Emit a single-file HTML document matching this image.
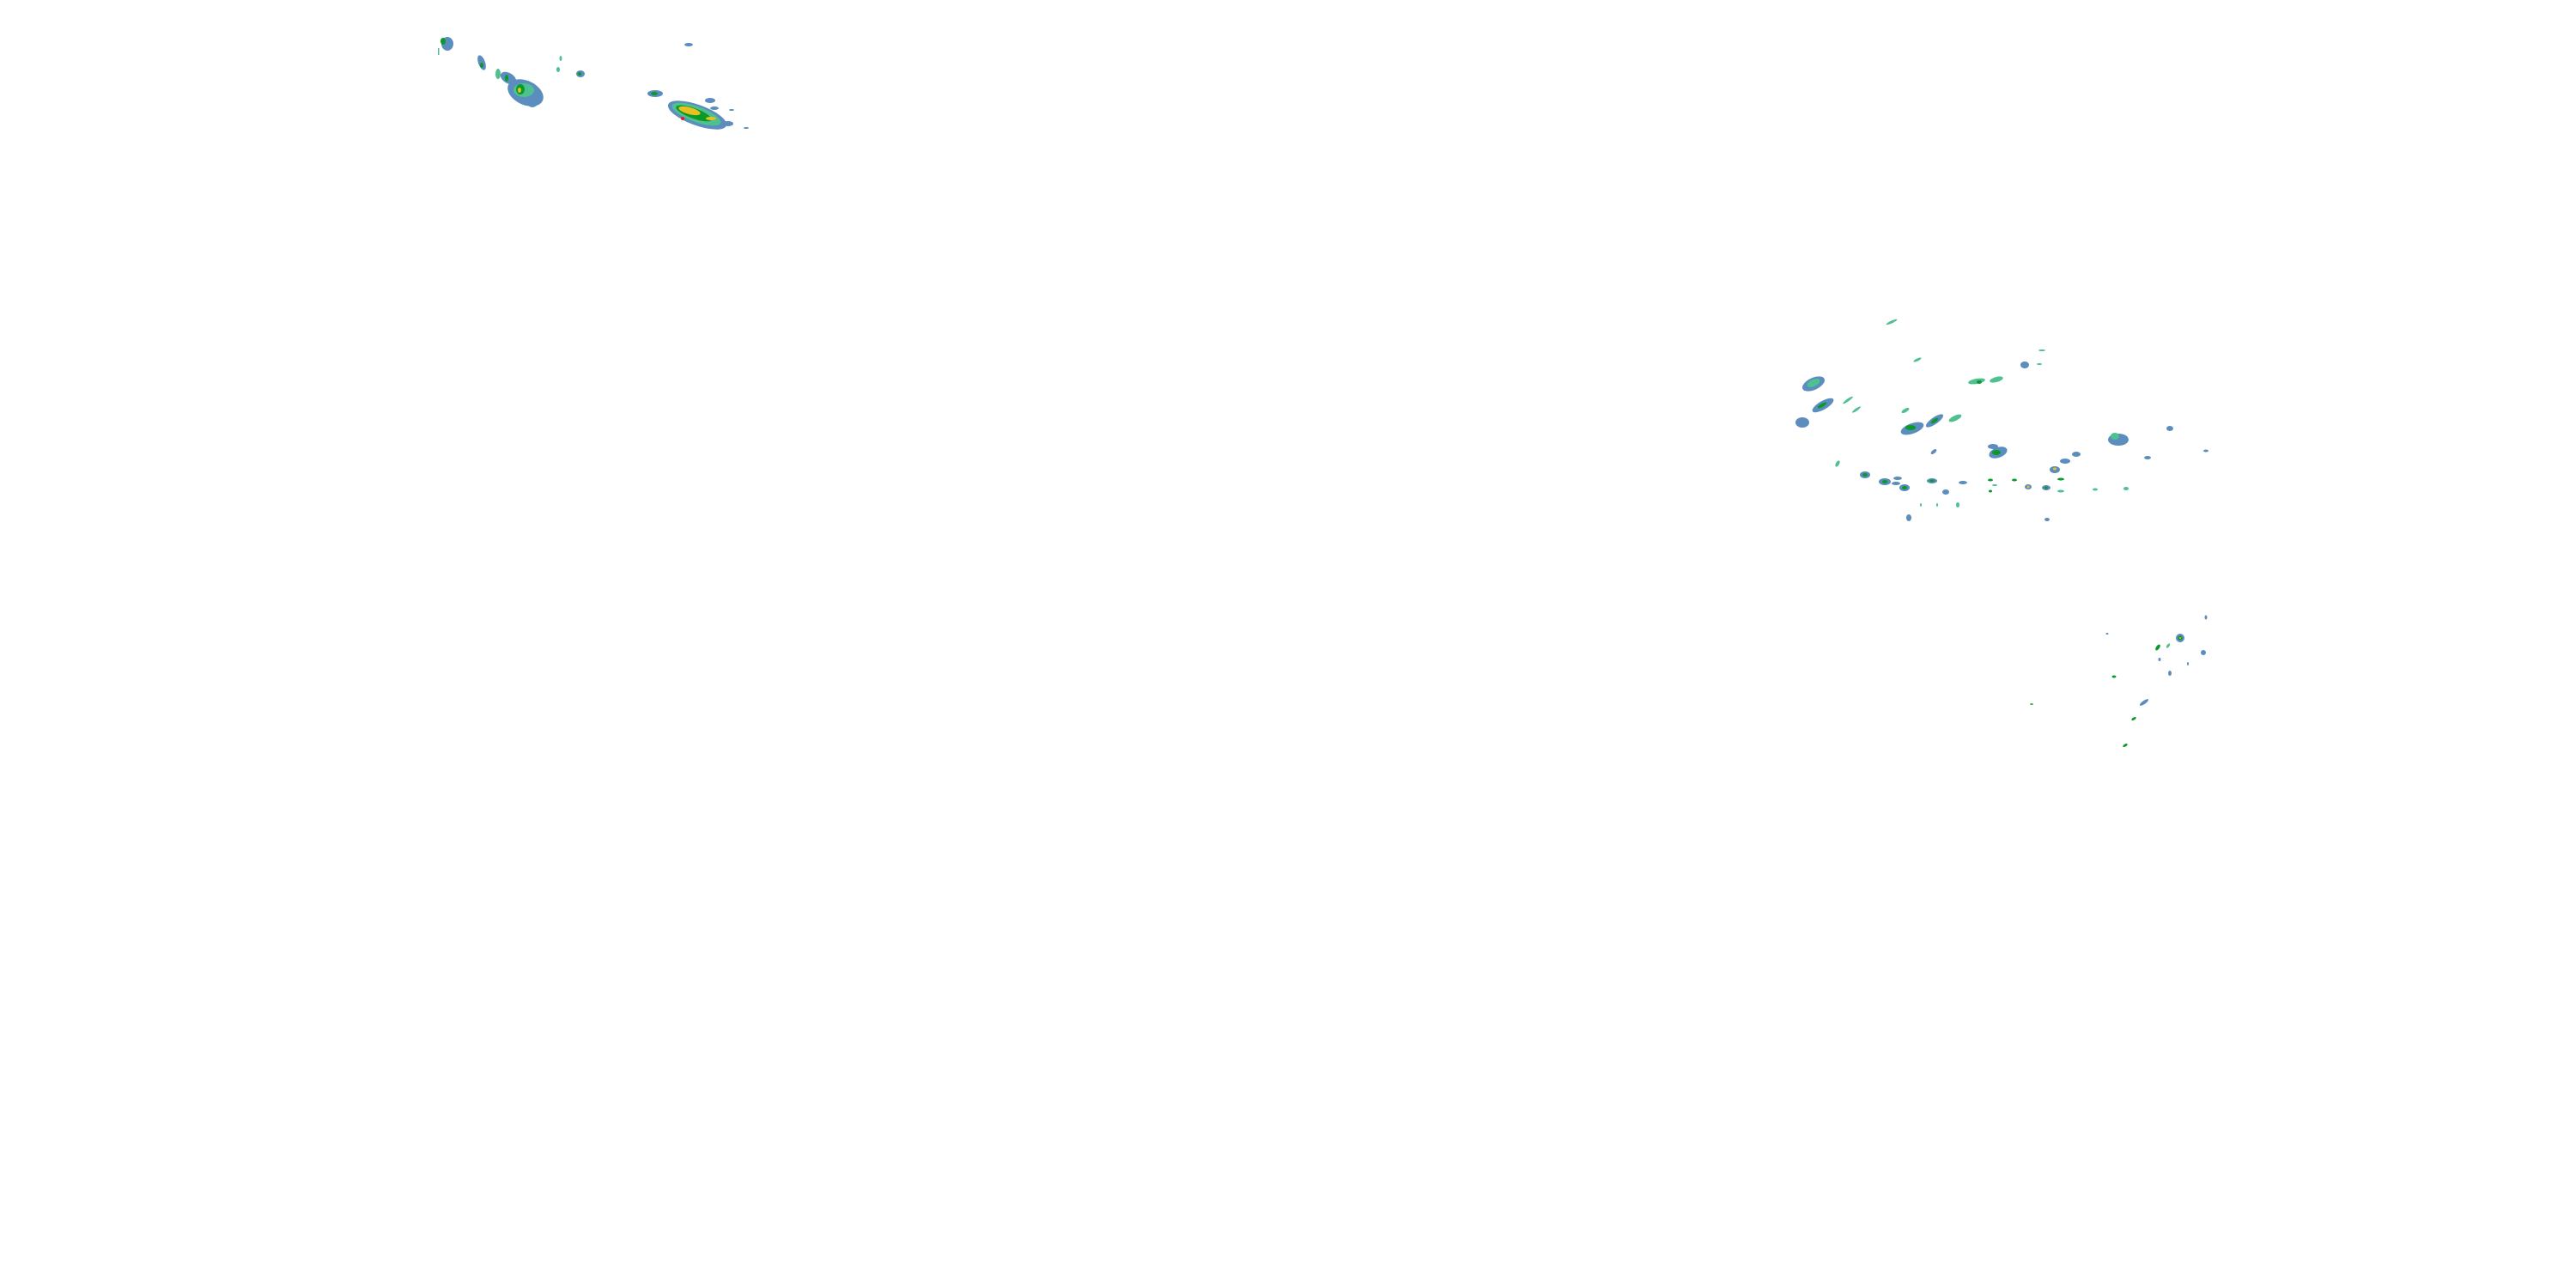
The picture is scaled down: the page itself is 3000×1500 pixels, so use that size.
<!DOCTYPE html>
<html><head><meta charset="utf-8"><style>
html,body{margin:0;padding:0;background:#fff;width:3000px;height:1500px;overflow:hidden}
svg{display:block}
.o{fill:#5b8dbf}.m{fill:#4fc08f}.i{fill:#0a9a2a}.y{fill:#e8c020}.r{fill:#e02020}
</style></head><body>
<svg width="3000" height="1500" viewBox="0 0 3000 1500" xmlns="http://www.w3.org/2000/svg">
<!-- top-left cluster -->
<g>
<ellipse class="o" cx="521" cy="51" rx="7" ry="8"/><ellipse class="i" cx="516" cy="48" rx="3" ry="4"/>
<rect class="m" x="510" y="56" width="1.5" height="8"/>
<ellipse class="o" cx="561" cy="73" rx="4" ry="9" transform="rotate(-20 561 73)"/><ellipse class="i" cx="561" cy="76" rx="2" ry="3"/>
<ellipse class="m" cx="580" cy="86" rx="3" ry="6"/>
<ellipse class="o" cx="592" cy="91" rx="10" ry="6" transform="rotate(30 592 91)"/><ellipse class="i" cx="590" cy="91" rx="2" ry="4"/>
<ellipse class="o" cx="612" cy="108" rx="22" ry="14" transform="rotate(25 612 108)"/><ellipse class="m" cx="610" cy="105" rx="12" ry="8"/><ellipse class="i" cx="606" cy="104" rx="5" ry="6"/><ellipse class="y" cx="605" cy="105" rx="2" ry="3"/>
<ellipse class="o" cx="620" cy="120" rx="6" ry="5"/>
<ellipse class="m" cx="653" cy="68" rx="1.5" ry="3"/><ellipse class="m" cx="650" cy="81" rx="2" ry="3"/>
<ellipse class="o" cx="676" cy="86" rx="5" ry="4"/><ellipse class="i" cx="675" cy="86" rx="2" ry="2"/>
<ellipse class="o" cx="763" cy="109" rx="9" ry="4"/><ellipse class="i" cx="762" cy="109" rx="4" ry="2"/>
<ellipse class="o" cx="812" cy="134" rx="36" ry="12" transform="rotate(20 812 134)"/>
<ellipse class="m" cx="811" cy="133" rx="30" ry="9" transform="rotate(20 811 133)"/>
<ellipse class="i" cx="808" cy="132" rx="22" ry="6" transform="rotate(20 808 132)"/>
<ellipse class="y" cx="803" cy="129" rx="13" ry="4" transform="rotate(15 803 129)"/>
<ellipse class="y" cx="828" cy="138" rx="6" ry="2"/>
<ellipse class="r" cx="795" cy="138" rx="2" ry="2"/>
<ellipse class="o" cx="827" cy="117" rx="6" ry="3"/><ellipse class="o" cx="832" cy="126" rx="5" ry="2"/>
<ellipse class="o" cx="848" cy="144" rx="6" ry="3"/><ellipse class="o" cx="802" cy="52" rx="5" ry="2"/>
<ellipse class="o" cx="852" cy="128" rx="3" ry="1"/><ellipse class="o" cx="869" cy="149" rx="3" ry="1"/>
</g>
<!-- right cluster -->
<g>
<ellipse class="o" cx="2112" cy="447" rx="14" ry="7" transform="rotate(-25 2112 447)"/><ellipse class="m" cx="2112" cy="446" rx="8" ry="4" transform="rotate(-25 2112 446)"/>
<ellipse class="o" cx="2099" cy="492" rx="8" ry="6"/>
<ellipse class="o" cx="2123" cy="472" rx="14" ry="5" transform="rotate(-30 2123 472)"/><ellipse class="i" cx="2122" cy="472" rx="6" ry="2" transform="rotate(-30 2122 472)"/>
<ellipse class="m" cx="2152" cy="466" rx="7" ry="1.5" transform="rotate(-35 2152 466)"/>
<ellipse class="m" cx="2162" cy="477" rx="6" ry="1.5" transform="rotate(-35 2162 477)"/>
<ellipse class="m" cx="2203" cy="375" rx="7" ry="1.5" transform="rotate(-25 2203 375)"/>
<ellipse class="m" cx="2233" cy="419" rx="5" ry="1.5" transform="rotate(-25 2233 419)"/>
<ellipse class="o" cx="2227" cy="499" rx="14" ry="6" transform="rotate(-20 2227 499)"/><ellipse class="i" cx="2225" cy="498" rx="6" ry="3"/>
<ellipse class="o" cx="2253" cy="490" rx="12" ry="4" transform="rotate(-35 2253 490)"/><ellipse class="i" cx="2253" cy="490" rx="5" ry="2" transform="rotate(-35 2253 490)"/>
<ellipse class="m" cx="2277" cy="487" rx="8" ry="3" transform="rotate(-25 2277 487)"/>
<ellipse class="m" cx="2219" cy="478" rx="5" ry="2" transform="rotate(-30 2219 478)"/>
<ellipse class="m" cx="2302" cy="444" rx="10" ry="3" transform="rotate(-10 2302 444)"/><ellipse class="i" cx="2305" cy="445" rx="3" ry="2"/>
<ellipse class="m" cx="2325" cy="442" rx="8" ry="3" transform="rotate(-15 2325 442)"/>
<ellipse class="o" cx="2358" cy="425" rx="5" ry="4"/><ellipse class="m" cx="2378" cy="408" rx="4" ry="1"/><ellipse class="m" cx="2375" cy="424" rx="3" ry="1"/>
<ellipse class="o" cx="2327" cy="527" rx="11" ry="6" transform="rotate(-20 2327 527)"/><ellipse class="i" cx="2325" cy="527" rx="5" ry="3"/>
<ellipse class="o" cx="2321" cy="520" rx="6" ry="3"/>
<ellipse class="o" cx="2467" cy="512" rx="12" ry="7"/><ellipse class="m" cx="2463" cy="508" rx="5" ry="4"/>
<ellipse class="o" cx="2527" cy="499" rx="4" ry="3"/><ellipse class="o" cx="2569" cy="525" rx="3" ry="1.5"/>
<ellipse class="o" cx="2501" cy="533" rx="4" ry="2"/>
<ellipse class="o" cx="2393" cy="547" rx="6" ry="4"/><ellipse class="y" cx="2393" cy="546" rx="2" ry="1.5"/>
<ellipse class="o" cx="2405" cy="537" rx="6" ry="3"/><ellipse class="o" cx="2418" cy="529" rx="5" ry="3"/>
<ellipse class="o" cx="2172" cy="553" rx="6" ry="4"/><ellipse class="i" cx="2172" cy="553" rx="3" ry="2"/>
<ellipse class="o" cx="2195" cy="561" rx="7" ry="4"/><ellipse class="i" cx="2195" cy="561" rx="3" ry="2"/>
<ellipse class="o" cx="2218" cy="568" rx="6" ry="4"/><ellipse class="i" cx="2218" cy="568" rx="3" ry="2"/>
<ellipse class="o" cx="2208" cy="563" rx="5" ry="2"/><ellipse class="o" cx="2210" cy="557" rx="5" ry="2"/>
<ellipse class="o" cx="2250" cy="560" rx="6" ry="3"/><ellipse class="i" cx="2250" cy="560" rx="3" ry="1.5"/>
<ellipse class="o" cx="2266" cy="573" rx="4" ry="3"/><ellipse class="o" cx="2286" cy="562" rx="5" ry="2"/>
<ellipse class="o" cx="2362" cy="567" rx="4" ry="3"/><ellipse class="y" cx="2362" cy="567" rx="1.5" ry="1.5"/>
<ellipse class="o" cx="2383" cy="568" rx="5" ry="3"/><ellipse class="i" cx="2383" cy="568" rx="2" ry="1.5"/>
<ellipse class="m" cx="2140" cy="540" rx="2" ry="4" transform="rotate(30 2140 540)"/>
<ellipse class="o" cx="2223" cy="603" rx="3" ry="4"/><ellipse class="o" cx="2384" cy="605" rx="3" ry="2"/>
<ellipse class="o" cx="2252" cy="526" rx="4" ry="2" transform="rotate(-40 2252 526)"/>
<ellipse class="m" cx="2280" cy="588" rx="2" ry="3"/><ellipse class="m" cx="2237" cy="588" rx="1" ry="2"/><ellipse class="m" cx="2256" cy="588" rx="1" ry="2"/>
<ellipse class="i" cx="2318" cy="559" rx="3" ry="1.5"/><ellipse class="i" cx="2346" cy="559" rx="3" ry="1.5"/><ellipse class="i" cx="2400" cy="558" rx="4" ry="1.5"/>
<ellipse class="m" cx="2400" cy="572" rx="4" ry="1.5"/><ellipse class="m" cx="2440" cy="570" rx="3" ry="1.5"/><ellipse class="m" cx="2476" cy="569" rx="3" ry="2"/>
<ellipse class="i" cx="2318" cy="572" rx="2" ry="1.5"/><ellipse class="m" cx="2323" cy="565" rx="3" ry="1"/>
<ellipse class="o" cx="2539" cy="743" rx="5" ry="5"/><ellipse class="i" cx="2539" cy="743" rx="2.5" ry="2.5"/><ellipse class="y" cx="2539" cy="743" rx="1" ry="1"/>
<ellipse class="i" cx="2513" cy="754" rx="2" ry="4" transform="rotate(35 2513 754)"/><ellipse class="m" cx="2525" cy="752" rx="1.5" ry="3" transform="rotate(35 2525 752)"/>
<ellipse class="o" cx="2566" cy="760" rx="3" ry="3"/>
<ellipse class="o" cx="2527" cy="784" rx="2" ry="3"/><ellipse class="o" cx="2515" cy="768" rx="1.5" ry="2"/><ellipse class="o" cx="2548" cy="773" rx="1" ry="2"/>
<ellipse class="o" cx="2497" cy="818" rx="6" ry="2" transform="rotate(-35 2497 818)"/>
<ellipse class="i" cx="2485" cy="837" rx="3" ry="1.5" transform="rotate(-30 2485 837)"/>
<ellipse class="i" cx="2475" cy="868" rx="3" ry="1.5" transform="rotate(-30 2475 868)"/>
<ellipse class="i" cx="2462" cy="788" rx="2.5" ry="1.5"/><ellipse class="o" cx="2569" cy="719" rx="1.5" ry="2.5"/>
<ellipse class="o" cx="2454" cy="738" rx="1.5" ry="1"/><ellipse class="i" cx="2366" cy="820" rx="2" ry="0.8"/>
</g>
</svg>
</body></html>
